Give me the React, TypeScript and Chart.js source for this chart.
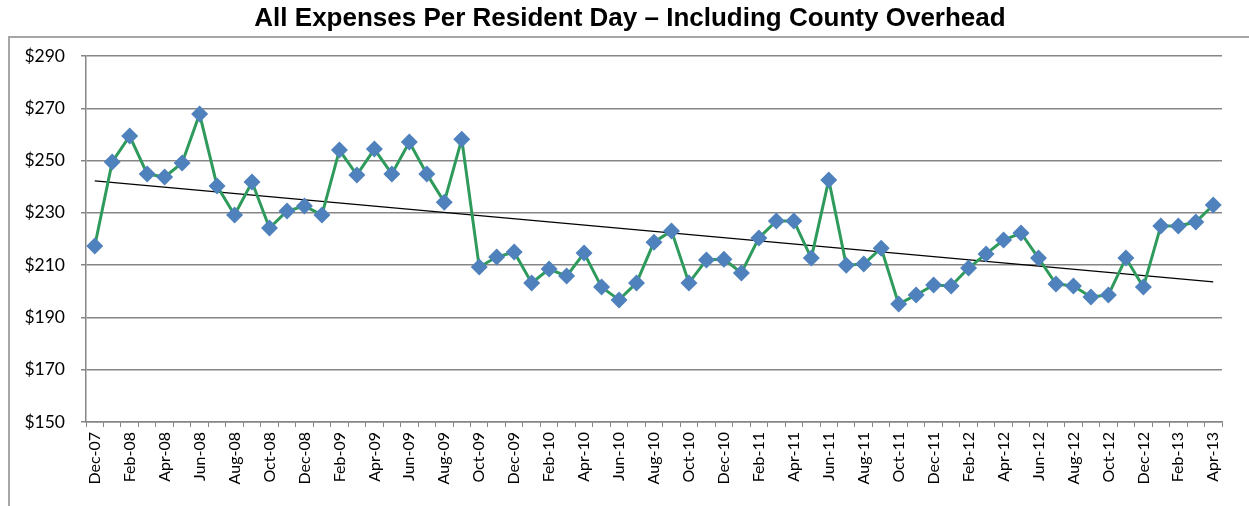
import React, { useEffect, useRef } from "react";
import { Chart, registerables } from "chart.js";

Chart.register(...registerables);

// Monthly periods, Dec-07 through Apr-13
const months: string[] = [
  "Dec-07", "Jan-08", "Feb-08", "Mar-08", "Apr-08", "May-08", "Jun-08", "Jul-08", "Aug-08", "Sep-08", "Oct-08", "Nov-08",
  "Dec-08", "Jan-09", "Feb-09", "Mar-09", "Apr-09", "May-09", "Jun-09", "Jul-09", "Aug-09", "Sep-09", "Oct-09", "Nov-09",
  "Dec-09", "Jan-10", "Feb-10", "Mar-10", "Apr-10", "May-10", "Jun-10", "Jul-10", "Aug-10", "Sep-10", "Oct-10", "Nov-10",
  "Dec-10", "Jan-11", "Feb-11", "Mar-11", "Apr-11", "May-11", "Jun-11", "Jul-11", "Aug-11", "Sep-11", "Oct-11", "Nov-11",
  "Dec-11", "Jan-12", "Feb-12", "Mar-12", "Apr-12", "May-12", "Jun-12", "Jul-12", "Aug-12", "Sep-12", "Oct-12", "Nov-12",
  "Dec-12", "Jan-13", "Feb-13", "Mar-13", "Apr-13",
];

// Expense per resident day, in dollars
const expensePerDay: number[] = [
  217.3, 249.5, 259.4, 244.9, 243.7, 249.1, 267.8, 240.3, 229.2, 241.8, 224.2, 230.7,
  232.6, 229.2, 254.0, 244.5, 254.4, 244.9, 257.1, 244.9, 234.1, 258.2, 209.3, 213.1,
  215.0, 203.2, 208.5, 205.8, 214.6, 201.6, 196.7, 203.2, 218.8, 223.1, 203.2, 212.0,
  212.3, 207.0, 220.4, 226.9, 226.9, 212.7, 242.6, 210.0, 210.4, 216.5, 195.1, 198.6,
  202.4, 202.0, 208.9, 214.3, 219.6, 222.3, 212.7, 202.8, 202.0, 197.8, 198.6, 212.7,
  201.6, 225.0, 225.0, 226.5, 233.0,
];

// Linear trend line end values (first and last month)
const trendStart = 242.2;
const trendEnd = 203.6;

// Value axis
const yMin = 150;
const yMax = 290;
const yStep = 20;

const trendData: (number | null)[] = months.map((_, i) =>
  i === 0 ? trendStart : i === months.length - 1 ? trendEnd : null
);

const titleText = "All Expenses Per Resident Day \u2013 Including County Overhead";
const labelFont = "Lato, 'Liberation Sans', sans-serif";

const framePlugin = {
  id: "frame",
  beforeDraw(chart: Chart) {
    const ctx = chart.ctx;
    ctx.save();
    ctx.fillStyle = "#ffffff";
    ctx.fillRect(0, 0, chart.width, chart.height);
    ctx.strokeStyle = "#a6a6a6";
    ctx.lineWidth = 2;
    ctx.beginPath();
    ctx.moveTo(9, chart.height + 5);
    ctx.lineTo(9, 37);
    ctx.lineTo(chart.width + 5, 37);
    ctx.stroke();
    ctx.fillStyle = "#000000";
    ctx.font = "bold 26px 'Liberation Sans', Arial, sans-serif";
    ctx.textAlign = "center";
    ctx.textBaseline = "middle";
    ctx.fillText(titleText, 630, 19);
    ctx.restore();
  },
};

export default function App() {
  const canvasRef = useRef<HTMLCanvasElement | null>(null);

  useEffect(() => {
    const canvas = canvasRef.current;
    if (!canvas) return;
    const chart = new Chart(canvas, {
      type: "line",
      data: {
        labels: months,
        datasets: [
          {
            label: "Trend",
            data: trendData,
            borderColor: "#000000",
            borderWidth: 1.2,
            pointRadius: 0,
            spanGaps: true,
            order: 2,
          },
          {
            label: "Expenses",
            data: expensePerDay,
            borderColor: "#2e9a5c",
            borderWidth: 3,
            pointStyle: "rectRot",
            pointRadius: 8.5,
            pointBackgroundColor: "#4f81bd",
            pointBorderColor: "#4f81bd",
            pointBorderWidth: 0,
            tension: 0,
            order: 1,
          },
        ],
      },
      options: {
        animation: false,
        responsive: false,
        maintainAspectRatio: false,
        layout: { padding: { top: 56, left: 0, right: 27, bottom: 0 } },
        plugins: {
          legend: { display: false },
          title: { display: false },
          tooltip: { enabled: false },
        },
        scales: {
          x: {
            type: "category",
            offset: true,
            afterFit: (scale: any) => {
              scale.height = 84;
            },
            grid: {
              display: true,
              drawOnChartArea: false,
              drawTicks: true,
              tickLength: 5,
              color: "#868686",
              offset: true,
            },
            border: { display: true, color: "#868686", width: 1.5 },
            ticks: {
              autoSkip: false,
              maxRotation: 90,
              minRotation: 90,
              padding: 5,
              color: "#000000",
              font: { family: labelFont, size: 16 },
              callback: (_v: any, i: number) => (i % 2 === 0 ? months[i] : ""),
            },
          },
          y: {
            min: yMin,
            max: yMax,
            afterFit: (scale: any) => {
              scale.width = 86;
            },
            grid: {
              color: "#868686",
              lineWidth: 1.5,
              drawTicks: true,
              tickLength: 5,
            },
            border: { display: true, color: "#868686", width: 1.5 },
            ticks: {
              stepSize: yStep,
              padding: 16,
              color: "#000000",
              font: { family: labelFont, size: 17.5 },
              callback: (v: any) => "$" + v,
            },
          },
        },
      },
      plugins: [framePlugin],
    });
    return () => chart.destroy();
  }, []);

  return (
    <div style={{ position: "fixed", left: 0, top: 0, width: 1249, height: 506 }}>
      <canvas ref={canvasRef} width={1249} height={506} style={{ width: 1249, height: 506, display: "block" }} />
    </div>
  );
}
